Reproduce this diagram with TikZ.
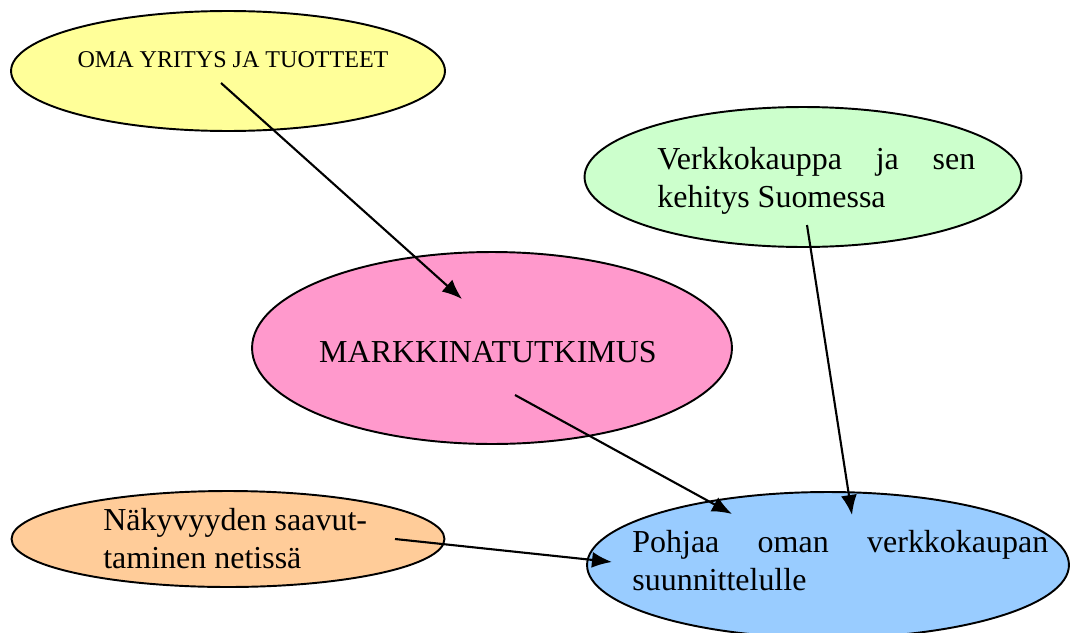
\documentclass[tikz,border=0pt]{standalone}
\usepackage{fontspec}
\setmainfont{Liberation Serif}
\usetikzlibrary{shapes.geometric,arrows.meta}
\newcommand{\bigtext}{\fontsize{18.2}{21.6}\selectfont}
\newcommand{\smalltext}{\fontsize{13.7}{16.4}\selectfont}
\definecolor{omacolor}{HTML}{FFFF99}
\definecolor{verkkocolor}{HTML}{CCFFCC}
\definecolor{markcolor}{HTML}{FF99CC}
\definecolor{nakycolor}{HTML}{FFCC99}
\definecolor{pohjacolor}{HTML}{99CCFF}
\tikzset{
  bubble/.style={ellipse, draw=black, line width=1.1pt, inner sep=0pt},
  words/.style={inner sep=0pt, font=\bigtext},
  flow/.style={->, line width=1.2pt}
}

\begin{document}
\begin{tikzpicture}[x=0.02cm, y=-0.02cm, >={Latex[length=0.4cm, width=0.32cm]}]
    \useasboundingbox (0,0) rectangle (1074,632);
    \clip (0,0) rectangle (1074,632);

    % bubbles
    \node [bubble, fill=omacolor, minimum width=8.68cm, minimum height=2.4cm] (oma) at (228,71) {};
    \node [bubble, fill=verkkocolor, minimum width=8.74cm, minimum height=2.8cm] (verkko) at (803,177) {};
    \node [bubble, fill=markcolor, minimum width=9.6cm, minimum height=3.84cm] (mark) at (492,348) {};
    \node [bubble, fill=nakycolor, minimum width=8.66cm, minimum height=1.92cm] (naky) at (228,539) {};
    \node [bubble, fill=pohjacolor, minimum width=9.64cm, minimum height=2.92cm] (pohja) at (828,565) {};

    % texts (multi-line ones sit on their last line)
    \node [words, font=\smalltext, anchor=base] (oma text) at (233,67) {OMA YRITYS JA TUOTTEET};
    \node [words, anchor=base west, align=left] (verkko text) at (657,207)
        {\makebox[6.36cm][s]{Verkkokauppa ja sen}\\kehitys Suomessa};
    \node [words, anchor=base] (mark text) at (488,362) {MARKKINATUTKIMUS};
    \node [words, anchor=base west, align=left] (naky text) at (103,568)
        {Näkyvyyden saavut-\\taminen netissä};
    \node [words, anchor=base west, align=left] (pohja text) at (632,590)
        {\makebox[8.32cm][s]{Pohjaa oman verkkokaupan}\\suunnittelulle};

    % arrow ends
    \coordinate (oma out) at (221,83);
    \coordinate (mark in) at (462,299);
    \coordinate (mark out) at (515,395);
    \coordinate (verkko out) at (807,225);
    \coordinate (naky out) at (395,539);
    \coordinate (pohja in top) at (732,514);
    \coordinate (pohja in right) at (852,515);
    \coordinate (pohja in left) at (612,562);

    % arrows
    \draw [flow] (oma out) -- (mark in);
    \draw [flow] (mark out) -- (pohja in top);
    \draw [flow] (verkko out) -- (pohja in right);
    \draw [flow] (naky out) -- (pohja in left);
\end{tikzpicture}
\end{document}
